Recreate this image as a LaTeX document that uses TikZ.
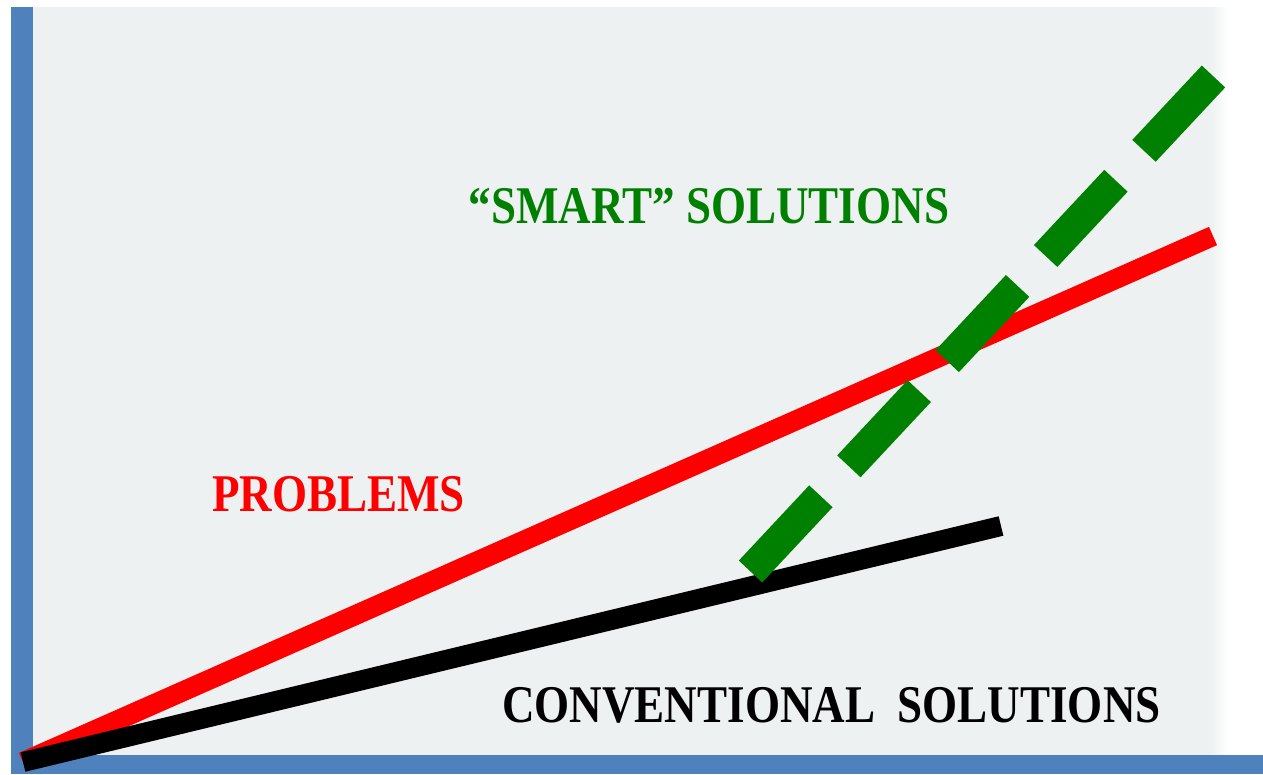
\documentclass[tikz,border=0pt]{standalone}
\usepackage{fontspec}
\setmainfont{Liberation Serif}
\newfontfamily\labelfont[FakeStretch=0.85]{Liberation Serif}
\usepackage{tikz}
\usetikzlibrary{positioning}
\definecolor{axisblue}{RGB}{79,129,189}
\definecolor{panelgray}{RGB}{238,241,241}
\definecolor{smartgreen}{RGB}{0,128,0}
\tikzset{%
  axisbar/.style={fill=axisblue}, % the two blue axes
  trend/.style={line width=20pt, line cap=butt},
  smartline/.style={draw=smartgreen, line width=32pt, dash pattern=on 103pt off 41pt},
  lbl/.style={inner sep=0pt, font=\labelfont\bfseries\fontsize{53}{60}\selectfont}
}

\begin{document}
\begin{tikzpicture}[x=1pt, y=-1pt]
\useasboundingbox (0,0) rectangle (1263,774);

% panel behind the chart
\fill[panelgray] (33,7) rectangle (1210,755);
\shade[left color=panelgray, right color=white] (1210,7) rectangle (1228,755);

% axes
\fill[axisbar] (11,7) rectangle (33,774);
\fill[axisbar] (11,755) rectangle (1263,774);

\coordinate (origin) at (23,762);
\coordinate (probEnd) at (1213,236);
\coordinate (convEnd) at (1001,526);
\coordinate (smartStart) at (750.5,571.5);
\coordinate (smartEnd) at (1213.5,76.5);

\draw[trend, red] (origin) -- (probEnd);
\draw[trend, black] (origin) -- (convEnd);
\draw[smartline] (smartStart) -- (smartEnd);

\node[lbl, text=smartgreen] (smart) at (709,206) {“SMART” SOLUTIONS};
\node[lbl, text=red] (prob) at (338.5,494.5) {PROBLEMS};
\node[lbl, text=black] (conv) at (831.5,705.5) {CONVENTIONAL\ \ SOLUTIONS};

\end{tikzpicture}
\end{document}
